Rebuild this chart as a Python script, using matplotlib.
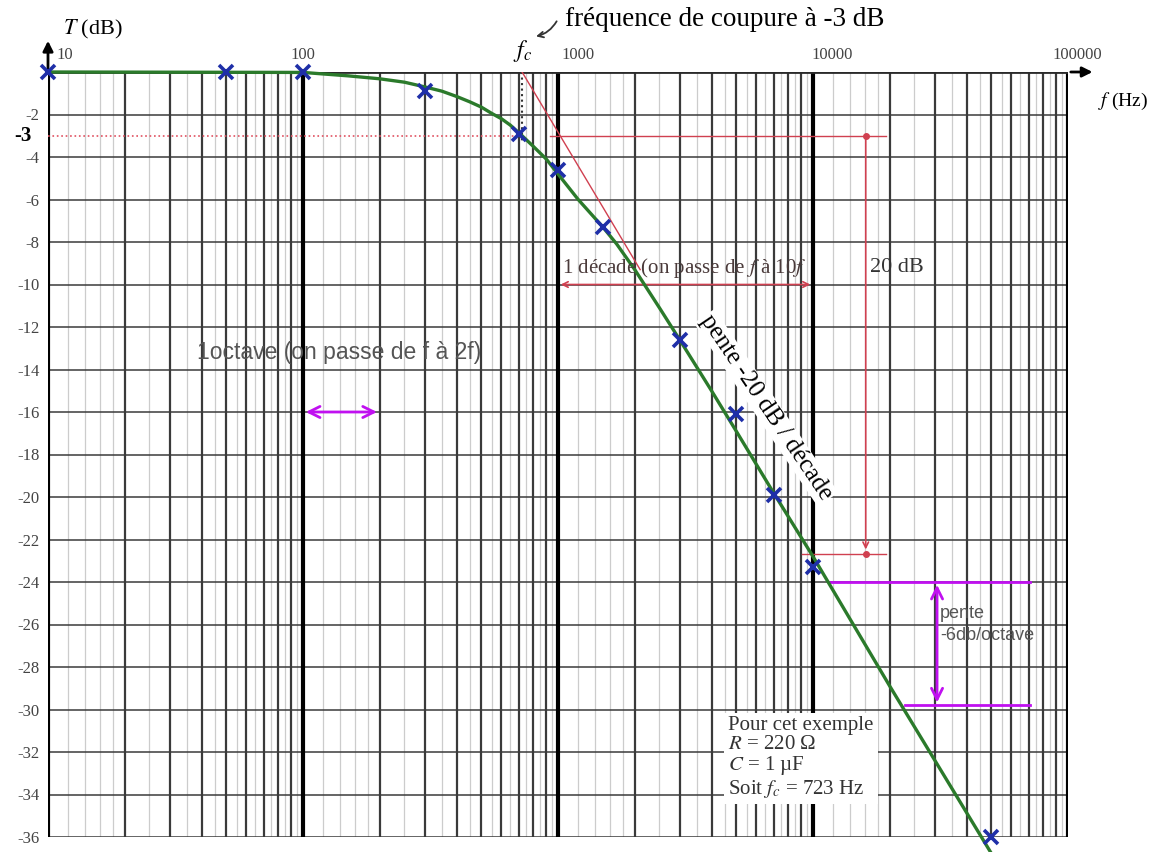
import numpy as np
import matplotlib
matplotlib.use('Agg')
from matplotlib import pyplot as plt

plt.rcParams['mathtext.fontset'] = 'stix'
SERIF = 'Liberation Serif'
SANS = 'Liberation Sans'

# measured points (blue crosses)
meas_f = [10, 50, 100, 300, 700, 1000, 1500, 3000, 5000, 7000, 10000, 50000]
meas_db = [0, 0, 0, -0.9, -2.9, -4.6, -7.3, -12.6, -16.1, -19.9, -23.3, -36.0]

# green response curve
curve_f = [10, 100, 150, 200, 250, 300, 350, 400, 450, 500, 550, 600, 650, 723, 800,
           900, 1000, 1200, 1500, 1700, 2000, 2500, 3000, 4000, 5000, 7000, 10000,
           20000, 52000]
curve_db = [0, -0.02, -0.18, -0.32, -0.48, -0.7, -0.9, -1.15, -1.4, -1.65, -1.95, -2.2,
            -2.5, -3.0, -3.5, -4.1, -4.8, -6.0, -7.3, -8.1, -9.3, -11.1, -12.6, -15.0,
            -16.9, -19.8, -22.8, -28.9, -37.1]

# asymptote from fc
asym_f = [723, 2100]
asym_db = [0, -9.3]

fc = 723
yticks = list(range(-2, -37, -2))
decades = [10, 100, 1000, 10000, 100000]
xtick_labels = ['10', '100', '1000', '10000', '100000']
xtick_pos = [11.6, 100, 1200, 11900, 109000]

fig = plt.figure(figsize=(11.5, 8.52), dpi=100)
ax = fig.add_axes([48 / 1150, 1 - 837 / 852, 1020 / 1150, 765 / 852])
ax.set_xscale('log')
ax.set_xlim(10, 100000)
ax.set_ylim(-36, 0)
for s in ax.spines.values():
    s.set_visible(False)

# vertical grid
for d in decades[:-1]:
    for m in range(2, 10):
        ax.axvline(d * m, color='#3a3a3a', lw=1.6, zorder=1)
    for m in [1.2, 1.4, 1.6, 1.8, 2.5, 3.5, 4.5, 5.5, 6.5, 7.5, 8.5, 9.5]:
        ax.axvline(d * m, color='#cccccc', lw=0.9, zorder=0)
for d in decades:
    ax.axvline(d, color='black', lw=3, zorder=2)

# horizontal grid
for y in yticks:
    ax.axhline(y, color='#3a3a3a', lw=1.1, zorder=1)
ax.axhline(0, color='#2a2a2a', lw=2, zorder=2)

# axis arrows
ax.annotate('', xy=(10, 1.6), xytext=(10, 0), annotation_clip=False,
            arrowprops=dict(arrowstyle='-|>', color='black', lw=2, mutation_scale=15))
ax.annotate('', xy=(128000, 0), xytext=(100000, 0), annotation_clip=False,
            arrowprops=dict(arrowstyle='-|>', color='black', lw=2, mutation_scale=15))

ax.set_yticks(yticks)
ax.set_yticklabels([str(v) for v in yticks], fontfamily=SERIF, fontsize=12, color='#444444')
ax.tick_params(axis='y', length=0, pad=6)
ax.set_xticks([])
ax.set_xticks([], minor=True)
ax.text(-0.0157, -3, '-3', transform=ax.get_yaxis_transform(), ha='right', va='center',
        fontfamily=SERIF, fontsize=15, fontweight='bold', color='black')

for p, lab in zip(xtick_pos, xtick_labels):
    ax.text(p, 0.8, lab, ha='center', va='center', fontfamily=SERIF, fontsize=12,
            color='#444444', clip_on=False)

ax.text(11.5, 2.0, '$T$ (dB)', ha='left', va='center', fontfamily=SERIF, fontsize=16, clip_on=False)
ax.text(131000, -1.4, '$f$ (Hz)', ha='left', va='center', fontfamily=SERIF, fontsize=14, clip_on=False)

# -3 dB dotted line and fc marker
ax.plot([10, fc], [-3, -3], color='#e05060', lw=1.2, ls=':', zorder=3)
ax.plot([fc, fc], [0, -3.3], color='#333333', lw=1.5, ls=':', zorder=3)
ax.text(fc, 1.0, '$f_c$', ha='center', va='center', fontfamily=SERIF, fontsize=17, clip_on=False)
ax.text(1065, 2.45, 'fréquence de coupure à -3 dB', ha='left', va='center',
        fontfamily=SERIF, fontsize=19.5, clip_on=False)
ax.annotate('', xy=(800, 1.65), xytext=(1000, 2.5), annotation_clip=False,
            arrowprops=dict(arrowstyle='->', color='#333333', lw=1.3,
                            connectionstyle='arc3,rad=-0.25'))

# asymptote
ax.plot(asym_f, asym_db, color='#d04050', lw=1, zorder=4)

# response curve and points
ax.plot(curve_f, curve_db, color='#2b7a2b', lw=2.4, zorder=5, clip_on=False)
ax.plot(meas_f, meas_db, ls='none', marker='x', ms=10, mew=2.6, color='#1f2fa8', zorder=6,
        clip_on=False)

# decade annotation
red = '#d04050'
ax.plot([930, 19300], [-3, -3], color=red, lw=1, zorder=4)
ax.plot([9050, 19300], [-22.7, -22.7], color=red, lw=1, zorder=4)
ax.plot([16100], [-3], marker='o', ms=4, color=red, zorder=5)
ax.plot([16100], [-22.7], marker='o', ms=4, color=red, zorder=5)
ax.annotate('', xy=(16100, -22.6), xytext=(16100, -3),
            arrowprops=dict(arrowstyle='->', color=red, lw=1.2))
ax.text(16700, -9.2, '20 dB', ha='left', va='center', fontfamily=SERIF, fontsize=16,
        color='#333333')
ax.annotate('', xy=(10000, -10), xytext=(1000, -10),
            arrowprops=dict(arrowstyle='<->', color=red, lw=1.2))
ax.text(1040, -9.2, '1 décade (on passe de $f$ à 10$f$', ha='left', va='center',
        fontfamily=SERIF, fontsize=15, color='#4a3a3a', zorder=7)
ax.text(6550, -15.8, 'pente -20 dB / décade', rotation=-56, ha='center', va='center',
        fontfamily=SERIF, fontsize=18, color='black', zorder=7,
        bbox=dict(facecolor='white', edgecolor='none', pad=1))

# octave annotation
mag = '#c010f0'
ax.text(138, -13.2, '1octave (on passe de f à 2f)', ha='center', va='center',
        fontfamily=SANS, fontsize=16.5, color='#555555', zorder=7)
ax.annotate('', xy=(200, -16), xytext=(100, -16),
            arrowprops=dict(arrowstyle='<->', color=mag, lw=2, mutation_scale=20))
ax.plot([11650, 70900], [-24, -24], color=mag, lw=2, zorder=4)
ax.plot([22950, 70900], [-29.8, -29.8], color=mag, lw=2, zorder=4)
ax.annotate('', xy=(30650, -29.8), xytext=(30650, -24),
            arrowprops=dict(arrowstyle='<->', color=mag, lw=2, mutation_scale=20))
ax.text(31500, -26.0, 'pente\n-6db/octave', ha='left', va='center', fontfamily=SANS,
        fontsize=13, color='#555555', zorder=7, linespacing=1.35)

# example box
ax.text(4650, -30.3, 'Pour cet exemple\n$R$ = 220 Ω\n$C$ = 1 µF\nSoit $f_c$ = 723 Hz',
        ha='left', va='top', fontfamily=SERIF, fontsize=15, color='#333333', zorder=7,
        linespacing=1.02, bbox=dict(facecolor='white', edgecolor='none', pad=3))

fig.savefig('out.png', dpi=100)
